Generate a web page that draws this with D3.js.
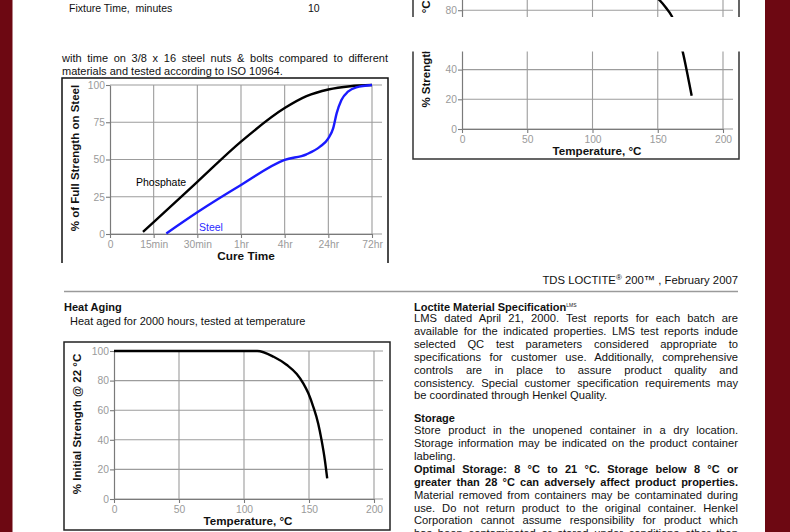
<!DOCTYPE html>
<html><head><meta charset="utf-8">
<script src="https://cdn.jsdelivr.net/npm/d3@7"></script>
<style>
html,body{margin:0;padding:0;background:#fff;}
svg{display:block;font-family:"Liberation Sans",Arial,sans-serif;}
</style></head><body>
<svg id="c" width="790" height="532"></svg>
<script>
// ---------- data ----------
const cureTicks = ["0","15min","30min","1hr","4hr","24hr","72hr"];
const strengthTicks = [0,25,50,75,100];
const phosphateX = [0.755,1,2,3,4,4.5,5,5.5,6];
const phosphateY = [1.5,8,35,62,84.5,92.5,97,99.2,100];
const steelX = [1.29,2,3,4,4.5,4.81,5,5.11,5.19,5.3,5.45,5.64,6];
const steelY = [0.4,14.6,32.9,49.7,53.5,58.6,64.2,70.9,81,90,95.5,98.4,100];
const tempTicks = [0,50,100,150,200];
const pctTicks = [0,20,40,60,80,100];
const heatTemp = [0,110.2,122.8,133,140.6,145.7,149.5,153.3,157.1,159.6,162.2,164];
const heatPct = [100,100,96.1,90.5,84.4,78,71.4,62.3,50.9,40.1,26.3,13.9];
const heat2Temp = [0,118,132,142,147,151.2,156,160.7,165,169.1,172.5,176];
const heat2Pct = [100,100,97,93,90,86.9,82,76.1,65,52.1,38,22.4];

const specLines = [
  ["LMS dated April 21, 2000.  Test reports for each batch are", true],
  ["available for the indicated properties.  LMS test reports indude", true],
  ["selected QC test parameters considered appropriate to", true],
  ["specifications for customer use.  Additionally, comprehensive", true],
  ["controls are in place to assure product quality and", true],
  ["consistency.  Special customer specification requirements may", true],
  ["be coordinated through Henkel Quality.", false]
];
const storageLines = [
  ["Store product in the unopened container in a dry location.", true, false],
  ["Storage information may be indicated on the product container", true, false],
  ["labeling.", false, false],
  ["Optimal Storage:  8 °C to 21 °C.  Storage below 8 °C or", true, true],
  ["greater than 28 °C can adversely affect product properties.", true, true],
  ["Material removed from containers may be contaminated during", true, false],
  ["use.  Do not return product to the original container. Henkel", true, false],
  ["Corporation cannot assume responsibility for product which", true, false],
  ["has been contaminated or stored under conditions other than", true, false]
];

// ---------- drawing ----------
const svg = d3.select("#c");
const FONT = "Liberation Sans, Arial, sans-serif";
svg.append("rect").attr("width",790).attr("height",532).attr("fill","#fff");

function txt(x, y, s, o = {}) {
  const t = svg.append("text").attr("x", x).attr("y", y)
    .attr("font-size", o.size || 11).attr("fill", o.fill || "#111")
    .attr("font-family", FONT);
  if (o.bold) t.attr("font-weight", "bold");
  if (o.anchor) t.attr("text-anchor", o.anchor);
  if (o.width) {
    const words = s.split(/\s+/);
    t.text(words.join(" "));
    const w = t.node().getComputedTextLength();
    const n = words.length - 1;
    if (n > 0 && w < o.width) t.attr("word-spacing", (o.width - w) / n);
    else if (w > o.width) t.attr("textLength", o.width).attr("lengthAdjust", "spacingAndGlyphs");
  } else t.text(s);
  return t;
}

function drawChart(o) {
  const g = svg.append("g");
  const x = d3.scaleLinear(o.xd, o.xr), y = d3.scaleLinear(o.yd, o.yr);
  const y0 = y(o.yd[0]), yTop = y(o.yd[1]);
  g.selectAll(null).data(o.yTicks).join("line")
    .attr("x1", o.xr[0]).attr("x2", o.gridRight)
    .attr("y1", d => y(d)).attr("y2", d => y(d))
    .attr("stroke", "#9c9c9c").attr("stroke-width", 1.1);
  g.selectAll(null).data(o.xTicks.slice(1)).join("line")
    .attr("x1", d => x(d)).attr("x2", d => x(d))
    .attr("y1", y0).attr("y2", yTop)
    .attr("stroke", "#9c9c9c").attr("stroke-width", 1.1);
  const ay = g.append("g").attr("transform", `translate(${o.xr[0]},0)`)
    .call(d3.axisLeft(y).tickValues(o.yTicks).tickSize(4).tickSizeOuter(0).tickPadding(1));
  const ax = g.append("g").attr("transform", `translate(0,${y0})`)
    .call(d3.axisBottom(x).tickValues(o.xTicks).tickFormat(o.xFmt || (d => d))
      .tickSize(4).tickSizeOuter(0).tickPadding(3));
  [ay, ax].forEach(a => {
    a.attr("font-family", FONT).attr("font-size", 10.3);
    a.select(".domain").attr("stroke", "#7a7a7a").attr("stroke-width", 1.2);
    a.selectAll(".tick line").attr("stroke", "#7a7a7a").attr("stroke-width", 1.1);
    a.selectAll(".tick text").attr("fill", "#9a9a9a");
  });
  const line = d3.line().x(d => x(d[0])).y(d => y(d[1])).curve(o.curve || d3.curveMonotoneX);
  o.series.forEach(s => {
    g.append("path").attr("d", line(d3.zip(s.x, s.y)))
      .attr("fill", "none").attr("stroke", s.color).attr("stroke-width", 2.4)
      .attr("stroke-linejoin", "round");
  });
  return {x, y};
}

// top-left chart (cure speed vs substrate)
svg.append("path").attr("d", "M62,263V78H388V263").attr("fill", "none")
  .attr("stroke", "#111").attr("stroke-width", 1.5);
drawChart({
  xd: [0, 6], xr: [110, 372], yd: [0, 100], yr: [234, 85], gridRight: 382,
  xTicks: d3.range(cureTicks.length), xFmt: i => cureTicks[i], yTicks: strengthTicks,
  series: [{x: phosphateX, y: phosphateY, color: "#000"}, {x: steelX, y: steelY, color: "#1a1aff"}]
});
txt(136, 186, "Phosphate", {size: 10.5, fill: "#000"});
txt(199, 231, "Steel", {size: 10.5, fill: "#2a2aff"});
txt(246, 260, "Cure Time", {size: 11.8, bold: true, anchor: "middle"});
svg.append("text").attr("transform", "translate(75,158) rotate(-90)").attr("dy", "0.35em")
  .attr("text-anchor", "middle").attr("font-size", 11.5).attr("font-weight", "bold")
  .attr("font-family", FONT).attr("fill", "#111").text("% of Full Strength on Steel");

// top-right chart (partial)
svg.append("path").attr("d", "M413,-5V159H739V-5").attr("fill", "none")
  .attr("stroke", "#333").attr("stroke-width", 1.5);
drawChart({
  xd: [0, 200], xr: [462, 723], yd: [0, 100], yr: [129, -19.5], gridRight: 733,
  xTicks: tempTicks, yTicks: pctTicks, curve: d3.curveCatmullRom.alpha(0.5),
  series: [{x: heat2Temp, y: heat2Pct, color: "#000"}]
});
txt(597, 155, "Temperature, °C", {size: 11.6, bold: true, anchor: "middle"});
svg.append("text").attr("transform", "translate(426,54) rotate(-90)").attr("dy", "0.35em")
  .attr("text-anchor", "middle").attr("font-size", 11.5).attr("font-weight", "bold")
  .attr("font-family", FONT).attr("fill", "#111").text("% Strength @ 22 °C");
// page cut hiding part of the chart
svg.append("rect").attr("x", 395).attr("y", 17).attr("width", 370).attr("height", 34.5).attr("fill", "#fff");

// top-left texts
txt(69, 12, "Fixture Time,  minutes", {size: 10.5, fill: "#111"}).attr("xml:space", "preserve");
txt(308, 12, "10", {size: 10.5, fill: "#111"});
txt(62, 62.3, "with time on 3/8 x 16 steel nuts & bolts compared to different", {size: 11, width: 326});
txt(62, 75, "materials and tested according to ISO 10964.", {size: 11});

// bottom-left: heat aging
txt(64, 310.5, "Heat Aging", {size: 11, bold: true});
txt(70, 325, "Heat aged for 2000 hours, tested at temperature", {size: 11});
svg.append("rect").attr("x", 64).attr("y", 342).attr("width", 326).attr("height", 188)
  .attr("fill", "none").attr("stroke", "#222").attr("stroke-width", 1.5);
drawChart({
  xd: [0, 200], xr: [114, 374], yd: [0, 100], yr: [499, 351], gridRight: 383,
  xTicks: tempTicks, yTicks: pctTicks,
  series: [{x: heatTemp, y: heatPct, color: "#000"}]
});
txt(248, 525, "Temperature, °C", {size: 11.6, bold: true, anchor: "middle"});
svg.append("text").attr("transform", "translate(77,424) rotate(-90)").attr("dy", "0.35em")
  .attr("text-anchor", "middle").attr("font-size", 11.5).attr("font-weight", "bold")
  .attr("font-family", FONT).attr("fill", "#111").text("% Initial Strength @ 22 °C");

// header rule and title
svg.append("line").attr("x1", 64).attr("x2", 738).attr("y1", 291.5).attr("y2", 291.5)
  .attr("stroke", "#9a9a9a").attr("stroke-width", 1.3);
const hdr = txt(738, 284, "", {size: 11.3, anchor: "end"});
hdr.append("tspan").text("TDS LOCTITE");
hdr.append("tspan").text("®").attr("font-size", 8).attr("dy", -4);
hdr.append("tspan").text(" 200™ , February 2007").attr("dy", 4);

// right column
const lm = txt(414, 311, "Loctite Material Specification", {size: 11, bold: true});
lm.append("tspan").text("LMS").attr("font-size", 5).attr("dy", -4).attr("font-weight", "normal");
specLines.forEach((l, i) => txt(414, 322.3 + i * 12.85, l[0], {size: 11.2, width: l[1] ? 324 : null}));
txt(414, 421.7, "Storage", {size: 11, bold: true});
storageLines.forEach((l, i) => txt(414, 434 + i * 12.92, l[0], {size: l[2] ? 11 : 11.2, bold: l[2], width: l[1] ? 324 : null}));

// side borders
svg.append("rect").attr("x", 0).attr("y", 0).attr("width", 12.5).attr("height", 532).attr("fill", "#6d0812");
svg.append("rect").attr("x", 765).attr("y", 0).attr("width", 25).attr("height", 532).attr("fill", "#6d0812");
</script></body></html>
